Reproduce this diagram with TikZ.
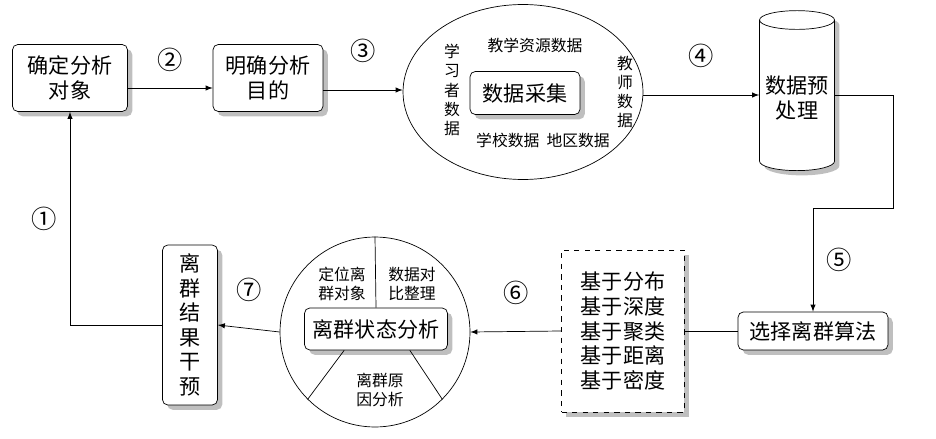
\documentclass[tikz,border=0pt]{standalone}
\usepackage{fontspec}
\setmainfont{Noto Sans CJK SC}
\usepackage{tikz}
\usetikzlibrary{shapes.geometric,shadows,calc}
\tikzset{
  stepbox/.style={draw,rounded corners=3pt,fill=white,drop shadow,align=center,font=\large},
  num/.style={font=\Large},
  lbl/.style={font=\small,align=center},
}
\begin{document}
\begin{tikzpicture}[>=latex,x=0.02cm,y=-0.02cm,thin]
        \useasboundingbox (0,0) rectangle (936,439);
        \node[stepbox,minimum width=2.3cm,minimum height=1.34cm] (confirm) at (70,78) {确定分析\\对象};
        \node[stepbox,minimum width=2.2cm,minimum height=1.34cm] (goal) at (268,78) {明确分析\\目的};
        \node[draw,ellipse,minimum width=4.8cm,minimum height=3.5cm] (collect) at (523,92) {};
        \node[stepbox,minimum width=2.2cm,minimum height=0.86cm] (core) at (525,93) {数据采集};
        \node[lbl] (teach) at (535,45) {教学资源数据};
        \node[lbl,inner sep=0pt] (learner) at (452,90) {学\\习\\者\\数\\据};
        \node[lbl,inner sep=0pt] (teacher) at (625,92) {教\\师\\数\\据};
        \node[lbl] (school) at (543,140) {学校数据\ \ 地区数据};
        \node[draw,cylinder,shape border rotate=90,aspect=0.25,minimum width=1.4cm,minimum height=3.2cm,drop shadow,fill=white,align=center,font=\large] (prep) at (797,98) {数据预\\处理};
        \node[stepbox,minimum width=3cm,minimum height=0.76cm] (algo) at (813,331) {选择离群算法};
        \node[draw,dashed,fill=white,drop shadow,align=center,font=\large,minimum width=2.46cm,minimum height=3.24cm,inner sep=2pt] (methods) at (623,331) {基于分布\\基于深度\\基于聚类\\基于距离\\基于密度};
        \node[draw,circle,minimum size=3.8cm] (state) at (375,332) {};
        \node[stepbox,minimum width=2.86cm,minimum height=0.84cm] (core2) at (376,329) {离群状态分析};
        \node[lbl] (locate) at (342,284) {定位离\\群对象};
        \node[lbl] (compare) at (412,284) {数据对\\比整理};
        \node[lbl] (reason) at (380,390) {离群原\\因分析};
        \node[stepbox,minimum width=1.1cm,minimum height=3.2cm] (act) at (190,325) {离\\群\\结\\果\\干\\预};
        \draw (state.north) -- (core2.north);
        \draw ($(core2.south west)+(40,0)$) -- (state.-135);
        \draw ($(core2.south east)+(-38,0)$) -- (state.-45);
        \draw[->] (confirm.east|-0,88) -- (goal.west|-0,88) node[num,midway,above=6pt] {②};
        \draw[->] (goal.east|-0,90) -- (collect.west|-0,90) node[num,midway,above=12pt] {③};
        \draw[->] (collect.east|-0,95) -- (prep.west|-0,95) node[num,midway,above=12pt] {④};
        \draw[->] (prep.east|-0,95) -| (893,208) -| (algo.north) node[num,pos=0.75,right=4pt] {⑤};
        \draw (algo.west) -- (methods.east);
        \draw[->] (methods.west) -- (state.east) node[num,midway,above=12pt] {⑥};
        \draw[->] (state.west) -- (act.east) node[num,midway,above=12pt] {⑦};
        \draw[->] (act.west) -| (confirm.south) node[num,pos=0.75,left=4pt] {①};
      \end{tikzpicture}
\end{document}
